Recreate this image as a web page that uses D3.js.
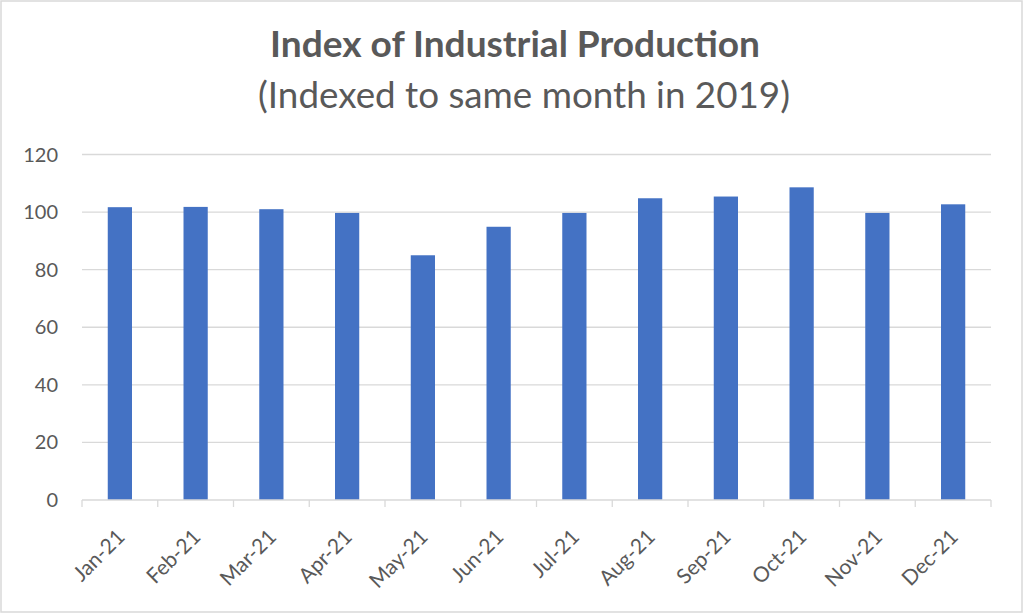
<!DOCTYPE html>
<html>
<head>
<meta charset="utf-8">
<script src="https://cdn.jsdelivr.net/npm/d3@7"></script>
<style>
  body { margin: 0; background: #fff; }
  svg { display: block; font-family: Lato, "Open Sans", sans-serif; }
</style>
</head>
<body>
<div id="chart"></div>
<script>
const months = ["Jan-21", "Feb-21", "Mar-21", "Apr-21", "May-21", "Jun-21",
  "Jul-21", "Aug-21", "Sep-21", "Oct-21", "Nov-21", "Dec-21"];
const values = [101.7, 101.8, 101.0, 99.7, 85.0, 94.9, 99.7, 104.8, 105.4, 108.6, 99.7, 102.7];
const yTicks = [0, 20, 40, 60, 80, 100, 120];

const width = 1024;
const height = 615;
const marginTop = 154.5;
const marginRight = 33;
const marginBottom = 115;
const marginLeft = 82;
const textColor = "#595959";
const gridColor = "#d9d9d9";

const svg = d3.select("#chart").append("svg")
  .attr("width", width)
  .attr("height", height);

// chart frame
svg.append("rect")
  .attr("x", 1).attr("y", 1)
  .attr("width", width - 3).attr("height", height - 4)
  .attr("fill", "#fff")
  .attr("stroke", gridColor)
  .attr("stroke-width", 1.5);

const x = d3.scaleBand()
  .domain(months)
  .range([marginLeft, width - marginRight])
  .paddingInner(0.68)
  .paddingOuter(0.34);

const y = d3.scaleLinear()
  .domain([0, 120])
  .range([height - marginBottom, marginTop]);

// titles, fitted to the widths seen in the reference
function fitText(sel, target) {
  const w = sel.node().getComputedTextLength();
  const fs = parseFloat(sel.attr("font-size"));
  sel.attr("font-size", fs * target / w);
}

const title = svg.append("text")
  .attr("x", 515).attr("y", 57)
  .attr("text-anchor", "middle")
  .attr("font-size", 30)
  .attr("font-weight", "bold")
  .attr("fill", textColor)
  .text("Index of Industrial Production");
fitText(title, 490);

const subtitle = svg.append("text")
  .attr("x", 524).attr("y", 108)
  .attr("text-anchor", "middle")
  .attr("font-size", 30)
  .attr("fill", textColor)
  .text("(Indexed to same month in 2019)");
fitText(subtitle, 532);

// gridlines + y labels
const gY = svg.append("g");
gY.selectAll("line")
  .data(yTicks.filter((d) => d > 0))
  .join("line")
  .attr("x1", marginLeft)
  .attr("x2", width - marginRight)
  .attr("y1", (d) => y(d))
  .attr("y2", (d) => y(d))
  .attr("stroke", gridColor)
  .attr("stroke-width", 1.3);
gY.selectAll("text")
  .data(yTicks)
  .join("text")
  .attr("x", 58)
  .attr("y", (d) => y(d))
  .attr("dy", "0.35em")
  .attr("text-anchor", "end")
  .attr("font-size", 20)
  .attr("fill", textColor)
  .text((d) => d);

// bars
svg.append("g")
  .selectAll("rect")
  .data(values)
  .join("rect")
  .attr("x", (d, i) => x(months[i]))
  .attr("y", (d) => y(d))
  .attr("width", x.bandwidth())
  .attr("height", (d) => y(0) - y(d))
  .attr("fill", "#4472c4");

// x axis: baseline, ticks at category boundaries, rotated labels
const step = x.step();
const gX = svg.append("g");
gX.append("line")
  .attr("x1", marginLeft).attr("x2", width - marginRight)
  .attr("y1", y(0)).attr("y2", y(0))
  .attr("stroke", gridColor)
  .attr("stroke-width", 1.3);
gX.selectAll(".tick")
  .data(d3.range(months.length + 1))
  .join("line")
  .attr("class", "tick")
  .attr("x1", (i) => marginLeft + i * step)
  .attr("x2", (i) => marginLeft + i * step)
  .attr("y1", y(0))
  .attr("y2", y(0) + 7)
  .attr("stroke", gridColor)
  .attr("stroke-width", 1.3);
gX.selectAll("text")
  .data(months)
  .join("text")
  .attr("transform", (d) => `translate(${x(d) + x.bandwidth() / 2 + 1},${y(0) + 33})rotate(-45)`)
  .attr("text-anchor", "end")
  .attr("dy", "0.35em")
  .attr("font-size", 21)
  .attr("fill", textColor)
  .text((d) => d);
</script>
</body>
</html>
